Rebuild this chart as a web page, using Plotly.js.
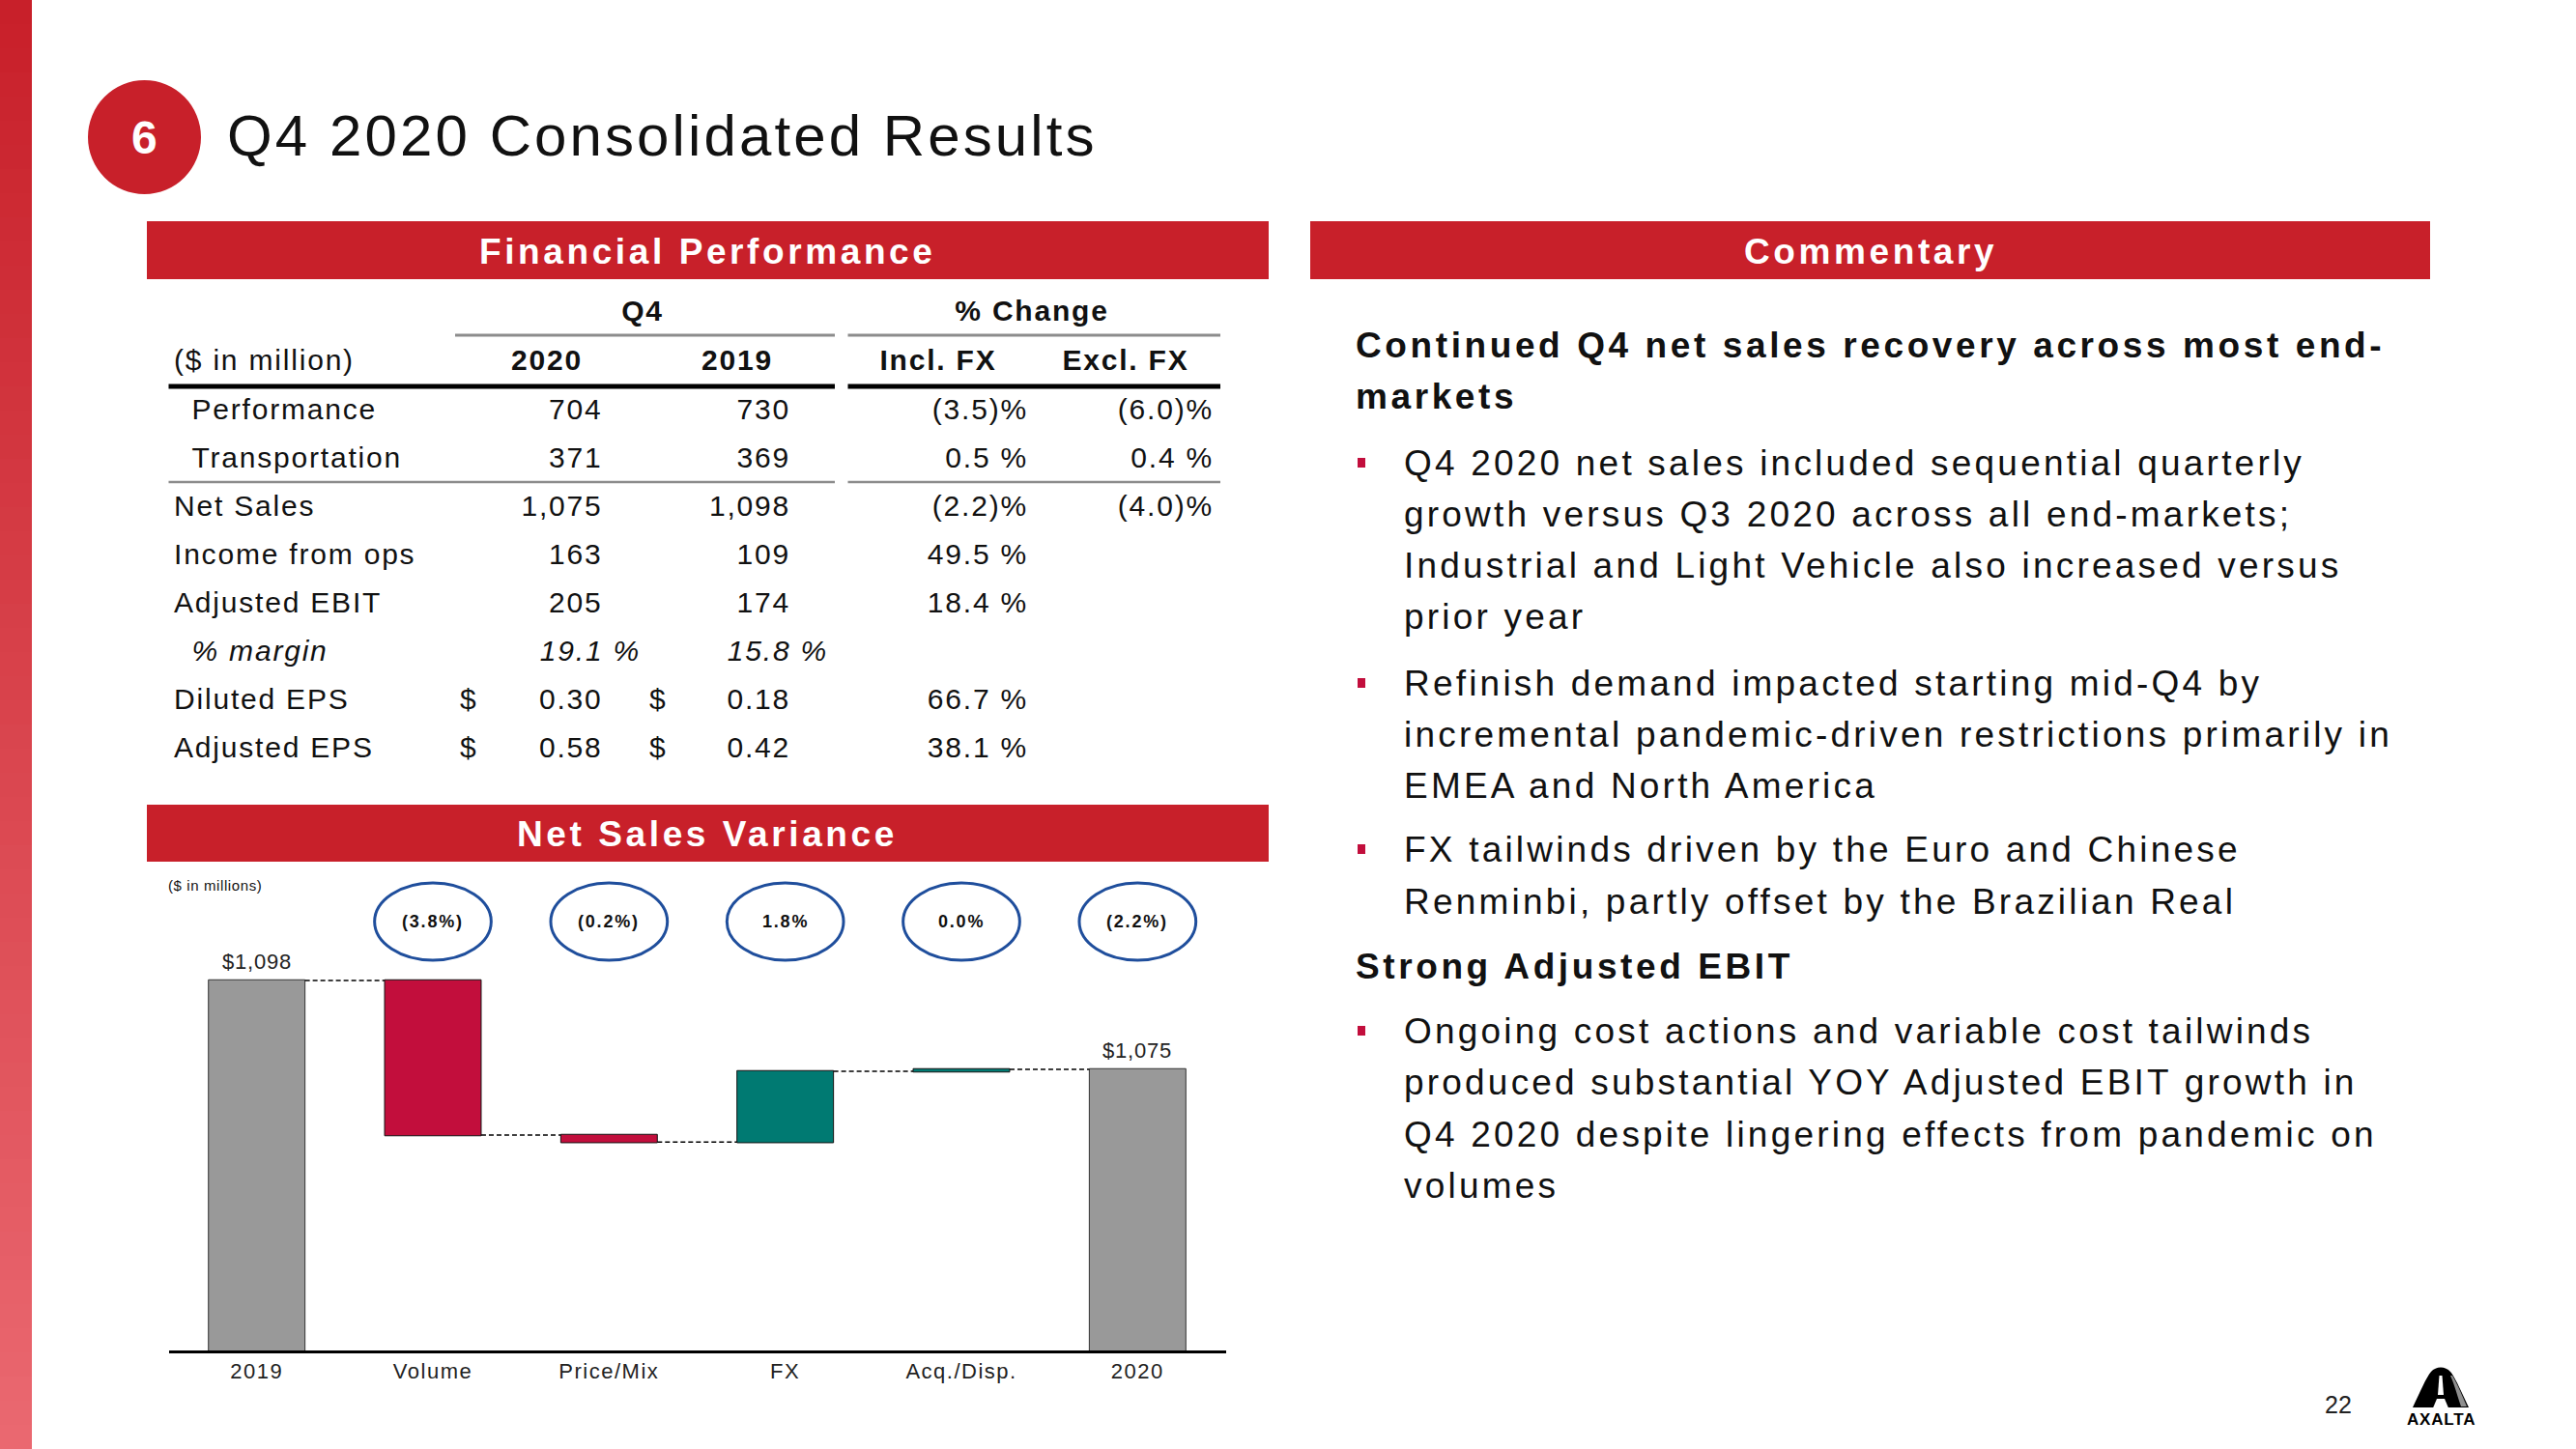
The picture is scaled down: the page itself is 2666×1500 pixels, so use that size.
<!DOCTYPE html>
<html><head><meta charset="utf-8">
<script src="https://cdn.plot.ly/plotly-3.0.1.min.js"></script>
<style>html,body{margin:0;padding:0;background:#fff;overflow:hidden}#chart{width:2666px;height:1500px}</style>
</head><body><div id="chart"></div>
<script>
// ---------------- DATA ----------------
const categories   = ['2019','Volume','Price/Mix','FX','Acq./Disp.','2020'];
const measures     = ['absolute','relative','relative','relative','relative','total'];
const bridgeValues = [1098, -40, -1.8, 18.3, 0.5, 0];
const totalLabels  = ['$1,098','','','','','$1,075'];
const changePct    = ['(3.8%)','(0.2%)','1.8%','0.0%','(2.2%)'];   // Volume .. 2020

const rowLabels  = ['Performance','Transportation','Net Sales','Income from ops','Adjusted EBIT','% margin','Diluted EPS','Adjusted EPS'];
const q4_2020    = ['704','371','1,075','163','205','19.1 %','0.30','0.58'];
const q4_2019    = ['730','369','1,098','109','174','15.8 %','0.18','0.42'];
const chgInclFX  = ['(3.5)%','0.5 %','(2.2)%','49.5 %','18.4 %','','66.7 %','38.1 %'];
const chgExclFX  = ['(6.0)%','0.4 %','(4.0)%','','','','',''];
const dollarRows = ['Diluted EPS','Adjusted EPS'];
const indentRows = ['Performance','Transportation','% margin'];
const groupHeaders = ['Q4','% Change'];
const colHeaders   = ['2020','2019','Incl. FX','Excl. FX'];
const unitLabel    = '($ in million)';

const commentaryLines = [
  ['h','Continued Q4 net sales recovery across most end-'],
  ['h','markets'],
  ['b','Q4 2020 net sales included sequential quarterly'],
  ['c','growth versus Q3 2020 across all end-markets;'],
  ['c','Industrial and Light Vehicle also increased versus'],
  ['c','prior year'],
  ['b','Refinish demand impacted starting mid-Q4 by'],
  ['c','incremental pandemic-driven restrictions primarily in'],
  ['c','EMEA and North America'],
  ['b','FX tailwinds driven by the Euro and Chinese'],
  ['c','Renminbi, partly offset by the Brazilian Real'],
  ['h','Strong Adjusted EBIT'],
  ['b','Ongoing cost actions and variable cost tailwinds'],
  ['c','produced substantial YOY Adjusted EBIT growth in'],
  ['c','Q4 2020 despite lingering effects from pandemic on'],
  ['c','volumes']
];

// ---------------- LAYOUT HELPERS ----------------
const W = 2666, H = 1500;
const FONT = 'Liberation Sans, Arial, sans-serif';
const px = x => x / W, py = y => 1 - y / H;
const sp = (t, s) => t ? `<span style="letter-spacing:${s}px">${t}</span>` : '';
const RED = '#c8202a', TXT = '#111111';

const shapes = [], annotations = [], traces = [];

// left gradient stripe
const c0 = [200,32,42], c1 = [234,104,112], NB = 60;
for (let i = 0; i < NB; i++) {
  const f = i / (NB - 1);
  const c = c0.map((v, k) => Math.round(v + (c1[k] - v) * f));
  shapes.push({type:'rect', xref:'paper', yref:'paper', x0:0, x1:px(33),
    y0:py(i * H / NB), y1:py((i + 1) * H / NB + 1), line:{width:0}, fillcolor:`rgb(${c.join(',')})`, layer:'below'});
}
// title badge
shapes.push({type:'circle', xref:'paper', yref:'paper', x0:px(91), x1:px(208), y0:py(201), y1:py(83), fillcolor:RED, line:{width:0}});
annotations.push({xref:'paper', yref:'paper', x:px(149), y:py(142), text:'<b>6</b>', showarrow:false,
  font:{family:FONT, size:48, color:'#fff'}, xanchor:'center', yanchor:'middle'});
annotations.push({xref:'paper', yref:'paper', x:px(233), y:py(140), text:sp('Q4 2020 Consolidated Results',3.1), showarrow:false,
  font:{family:FONT, size:60, color:TXT}, xanchor:'left', yanchor:'middle'});

// section header bars
function headerBar(x0, x1, y0, y1, label) {
  shapes.push({type:'rect', xref:'paper', yref:'paper', x0:px(x0), x1:px(x1), y0:py(y1), y1:py(y0), fillcolor:RED, line:{width:0}});
  annotations.push({xref:'paper', yref:'paper', x:px((x0 + x1) / 2), y:py((y0 + y1) / 2 + 1), text:'<b>' + sp(label,3.6) + '</b>',
    showarrow:false, font:{family:FONT, size:37, color:'#fff'}, xanchor:'center', yanchor:'middle'});
}
headerBar(152, 1313, 229, 289, 'Financial Performance');
headerBar(1356, 2515, 229, 289, 'Commentary');
headerBar(152, 1313, 833, 892, 'Net Sales Variance');

// ---------------- TABLE (text marks on a hidden pixel axis) ----------------
const rowY = rowLabels.map((_, i) => 426 + 50 * i);
const hdrY1 = 324, hdrY2 = 375;
const TF = 30, TS = 1.8;
const txt = (x, y, text, pos, bold) => ({
  type:'scatter', mode:'text', xaxis:'x2', yaxis:'y2', x, y,
  text:text.map(t => t ? (bold ? '<b>' + sp(t,TS) + '</b>' : sp(t,TS)) : ''),
  textposition:pos, textfont:{family:FONT, size:TF, color:TXT}, cliponaxis:false, hoverinfo:'skip', showlegend:false
});
const ital = (arr) => arr.map((t, i) => rowLabels[i] === '% margin' && t ? '<i>' + t + '</i>' : t);
traces.push(txt(rowLabels.map(l => indentRows.includes(l) ? 198.5 : 180), rowY, ital(rowLabels), 'middle right'));
traces.push(txt(rowLabels.map(l => l === '% margin' ? 663 : 623.5), rowY, ital(q4_2020), 'middle left'));
traces.push(txt(rowLabels.map(l => l === '% margin' ? 857 : 818), rowY, ital(q4_2019), 'middle left'));
traces.push(txt(rowLabels.map(() => 1064), rowY, chgInclFX, 'middle left'));
traces.push(txt(rowLabels.map(() => 1256), rowY, chgExclFX, 'middle left'));
const dIdx = rowLabels.map((l, i) => dollarRows.includes(l) ? i : -1).filter(i => i >= 0);
traces.push(txt(dIdx.map(() => 476), dIdx.map(i => rowY[i]), dIdx.map(() => '$'), 'middle right'));
traces.push(txt(dIdx.map(() => 672), dIdx.map(i => rowY[i]), dIdx.map(() => '$'), 'middle right'));
traces.push(txt([665, 1068], [hdrY1, hdrY1], groupHeaders, 'middle center', true));
traces.push(txt([566, 763, 971, 1165], colHeaders.map(() => hdrY2), colHeaders, 'middle center', true));
traces.push(txt([180], [hdrY2], [unitLabel], 'middle right'));

function hline(x0, x1, y, w, c) {
  shapes.push({type:'line', xref:'paper', yref:'paper', x0:px(x0), x1:px(x1), y0:py(y), y1:py(y), line:{color:c, width:w}});
}
hline(471, 864, 347, 3, '#8c8c8c'); hline(877.5, 1263, 347, 3, '#8c8c8c');
hline(174.5, 864, 400, 5, '#000');    hline(877.5, 1263, 400, 5, '#000');
hline(174.5, 864, 499, 2.5, '#8c8c8c'); hline(877.5, 1263, 499, 2.5, '#8c8c8c');

// ---------------- WATERFALL ----------------
const Y0 = 1002.25, PXU = 4, AXB = 1398;
const yv = p => Y0 + (AXB - p) / PXU;
traces.push({
  type:'waterfall', x:categories, y:bridgeValues, measure:measures, textinfo:'none',
  increasing:{marker:{color:'#007a72', line:{color:'#111', width:1}}},
  decreasing:{marker:{color:'#c20e3c', line:{color:'#111', width:1}}},
  totals:{marker:{color:'#999999', line:{color:'#333', width:1}}},
  connector:{mode:'between', line:{color:'#000', width:1.5, dash:'5px,3px'}},
  xaxis:'x', yaxis:'y', hoverinfo:'skip', showlegend:false
});
// value labels above the total bars (level = running total of the data)
let running = 0;
categories.forEach((c, i) => {
  if (measures[i] === 'absolute') running = bridgeValues[i];
  else if (measures[i] === 'relative') running += bridgeValues[i];
  if (totalLabels[i]) annotations.push({xref:'x', yref:'y', x:i, y:running, yshift:20, text:sp(totalLabels[i],0.8),
    showarrow:false, font:{family:FONT, size:22, color:'#222'}, xanchor:'center', yanchor:'middle'});
});
changePct.forEach((t, k) => {
  const i = k + 1;
  shapes.push({type:'circle', xref:'x', yref:'y', x0:i - 0.331, x1:i + 0.331, y0:yv(994), y1:yv(914),
    line:{color:'#1f4e9c', width:3}, fillcolor:'rgba(0,0,0,0)'});
  annotations.push({xref:'x', yref:'y', x:i, y:yv(954), text:'<b>' + sp(t,1.8) + '</b>', showarrow:false,
    font:{family:FONT, size:18, color:TXT}, xanchor:'center', yanchor:'middle'});
});
annotations.push({xref:'paper', yref:'paper', x:px(172), y:py(917), text:sp('($ in millions)',0.6), showarrow:false,
  font:{family:FONT, size:15, color:TXT}, xanchor:'left', yanchor:'middle'});

// ---------------- COMMENTARY ----------------
const baselines = [370, 423, 492, 545, 598, 651, 720, 773, 826, 892, 946, 1013, 1080, 1133, 1187, 1240];
commentaryLines.forEach(([kind, s], i) => {
  const yc = baselines[i] - 13;
  const head = kind === 'h';
  annotations.push({xref:'paper', yref:'paper', x:px(head ? 1401 : 1451), y:py(yc),
    text: head ? '<b>' + sp(s,3.6) + '</b>' : sp(s,3.2),
    showarrow:false, font:{family:FONT, size:37, color:TXT}, xanchor:'left', yanchor:'middle'});
  if (kind === 'b') shapes.push({type:'rect', xref:'paper', yref:'paper', x0:px(1405), x1:px(1413),
    y0:py(yc + 5), y1:py(yc - 5), fillcolor:'#c20e3c', line:{width:0}});
});

// ---------------- FOOTER ----------------
annotations.push({xref:'paper', yref:'paper', x:px(2420), y:py(1454), text:'22', showarrow:false,
  font:{family:FONT, size:25, color:'#222'}, xanchor:'center', yanchor:'middle'});
shapes.push({type:'path', xref:'paper', yref:'paper', fillcolor:'#000', line:{width:0},
  path:`M${px(2497)},${py(1457)} C${px(2505)},${py(1440)} ${px(2511)},${py(1426)} ${px(2516)},${py(1420)} C${px(2521)},${py(1414)} ${px(2531)},${py(1414)} ${px(2536)},${py(1420)} C${px(2541)},${py(1426)} ${px(2547)},${py(1440)} ${px(2555)},${py(1457)} Z`});
shapes.push({type:'path', xref:'paper', yref:'paper', fillcolor:'#8f8f8f', line:{width:0},
  path:`M${px(2538)},${py(1424)} C${px(2543)},${py(1432)} ${px(2548)},${py(1444)} ${px(2553)},${py(1456)} L${px(2547)},${py(1456)} C${px(2543)},${py(1444)} ${px(2540)},${py(1433)} ${px(2536)},${py(1424)} Z`});
shapes.push({type:'path', xref:'paper', yref:'paper', fillcolor:'#fff', line:{width:0},
  path:`M${px(2524.5)},${py(1424)} L${px(2527.5)},${py(1424)} L${px(2529)},${py(1444)} L${px(2523)},${py(1444)} Z`});
shapes.push({type:'path', xref:'paper', yref:'paper', fillcolor:'#fff', line:{width:0},
  path:`M${px(2518)},${py(1457.5)} L${px(2522)},${py(1448)} L${px(2530)},${py(1448)} L${px(2534)},${py(1457.5)} Z`});
annotations.push({xref:'paper', yref:'paper', x:px(2526), y:py(1469), text:'<b>' + sp('AXALTA',0.8) + '</b>', showarrow:false,
  font:{family:FONT, size:17, color:'#000'}, xanchor:'center', yanchor:'middle'});

// ---------------- LAYOUT ----------------
const layout = {
  width:W, height:H, margin:{l:0, r:0, t:0, b:0}, paper_bgcolor:'#fff', plot_bgcolor:'rgba(0,0,0,0)',
  showlegend:false, waterfallgap:0.452, font:{family:FONT, color:TXT},
  xaxis:{domain:[px(174.5), px(1268.5)], anchor:'y', type:'category', range:[-0.5, 5.5],
    showline:true, linecolor:'#000', linewidth:3, ticks:'', showgrid:false, zeroline:false,
    tickvals:categories, ticktext:categories.map(c => sp(c,1.5)), tickfont:{family:FONT, size:22, color:'#222'}, fixedrange:true},
  yaxis:{domain:[py(AXB), py(898)], anchor:'x', range:[Y0, Y0 + 500 / PXU], visible:false, showgrid:false, zeroline:false, fixedrange:true},
  xaxis2:{domain:[0, 1], anchor:'y2', range:[0, W], visible:false, fixedrange:true},
  yaxis2:{domain:[0, 1], anchor:'x2', range:[H, 0], visible:false, fixedrange:true},
  shapes, annotations
};
Plotly.newPlot('chart', traces, layout, {staticPlot:true, displayModeBar:false});
</script></body></html>
